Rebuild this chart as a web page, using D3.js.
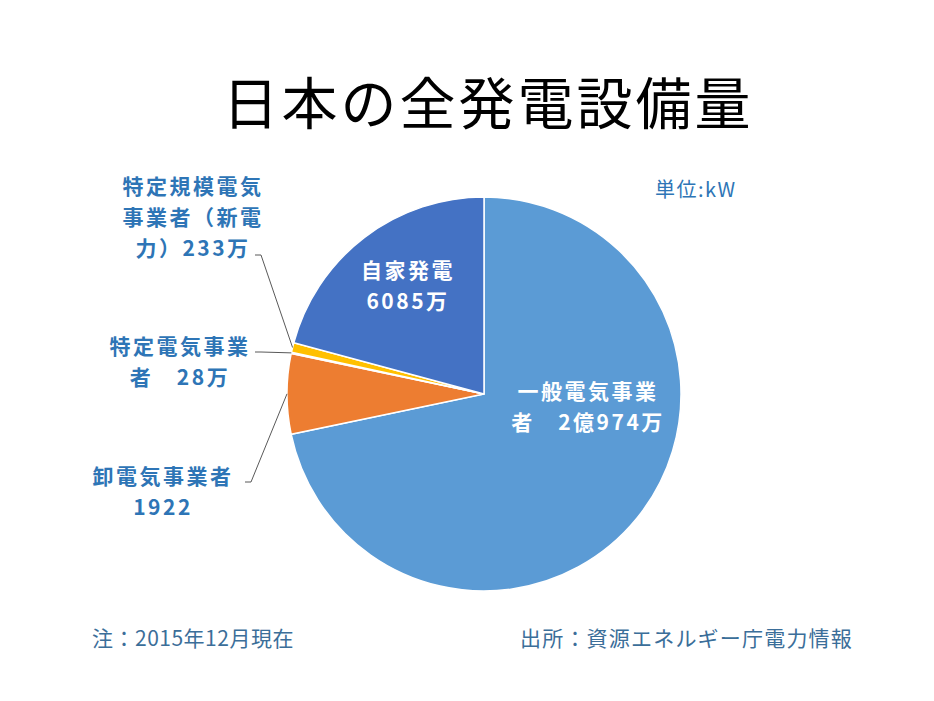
<!DOCTYPE html>
<html>
<head>
<meta charset="utf-8">
<script src="https://cdn.jsdelivr.net/npm/d3@7"></script>
<style>
  body { margin: 0; background: #fff; }
  text { font-family: "Noto Sans CJK JP", "Noto Sans", sans-serif; }
</style>
</head>
<body>
<div id="chart"></div>
<script>
// 単位: 万kW (2015年12月現在)
var categories = ["一般電気事業者", "卸電気事業者", "特定電気事業者", "特定規模電気事業者（新電力）", "自家発電"];
var values = [20974, 1922, 28, 233, 6085];
var labelLines = [
  ["一般電気事業", "者　2億974万"],
  ["卸電気事業者", "1922"],
  ["特定電気事業", "者　28万"],
  ["特定規模電気", "事業者（新電", "力）233万"],
  ["自家発電", "6085万"]
];
var colors = ["#5B9BD5", "#ED7D31", "#A5A5A5", "#FFC000", "#4472C4"];

var W = 934, H = 701;
var cx = 484, cy = 394, r = 197;

var svg = d3.select("#chart").append("svg")
    .attr("width", W).attr("height", H);

svg.append("rect").attr("width", W).attr("height", H).attr("fill", "#fff");

// title
svg.append("text")
    .attr("x", 488).attr("y", 124)
    .attr("text-anchor", "middle")
    .style("font-size", "56px")
    .style("font-weight", "400")
    .style("letter-spacing", "3px")
    .attr("fill", "#000")
    .text("日本の全発電設備量");

var pie = d3.pie().sort(null).value(function(d){ return d; });
var arcs = pie(values);
var arc = d3.arc().innerRadius(0).outerRadius(r);

var g = svg.append("g").attr("transform", "translate(" + cx + "," + cy + ")");
g.selectAll("path")
    .data(arcs)
    .enter().append("path")
    .attr("d", arc)
    .attr("fill", function(d, i){ return colors[i]; })
    .attr("stroke", "#fff")
    .attr("stroke-width", 1.5);

// label layout: inside labels (white) and outside labels with leaders
var layout = [
  { x: 588, y: 399, inside: true },
  { x: 163, y: 484, inside: false, lx: 245 },
  { x: 180, y: 354, inside: false, lx: 255 },
  { x: 193, y: 194, inside: false, lx: 255, ly: 255 },
  { x: 408, y: 278, inside: true }
];

function edgePoint(d) {
  var a = (d.startAngle + d.endAngle) / 2;
  return [cx + r * Math.sin(a), cy - r * Math.cos(a)];
}

arcs.forEach(function(d, i){
  var L = layout[i];
  var t = svg.append("text")
      .attr("text-anchor", "middle")
      .style("font-size", "21px")
      .style("font-weight", "bold")
      .style("letter-spacing", "2.5px")
      .attr("fill", L.inside ? "#fff" : "#2E75B6");
  labelLines[i].forEach(function(s, k){
    t.append("tspan").attr("x", L.x).attr("y", L.y + k * 31).text(s);
  });
  if (!L.inside) {
    var p = edgePoint(d);
    var sy = L.ly !== undefined ? L.ly : L.y - 2;
    svg.append("path")
        .attr("d", d3.line()([[L.lx, sy], [L.lx + 6, sy], p]))
        .attr("fill", "none")
        .attr("stroke", "#595959")
        .attr("stroke-width", 1);
  }
});

svg.append("text")
    .attr("x", 655).attr("y", 197)
    .style("font-size", "20px")
    .style("letter-spacing", "1.5px")
    .attr("fill", "#2E75B6")
    .text("単位:kW");

svg.append("text")
    .attr("x", 92).attr("y", 646)
    .style("font-size", "21px")
    .style("letter-spacing", "0.5px")
    .attr("fill", "#3B6E99")
    .text("注：2015年12月現在");

svg.append("text")
    .attr("x", 520).attr("y", 646)
    .style("font-size", "21px")
    .style("letter-spacing", "1.2px")
    .attr("fill", "#3B6E99")
    .text("出所：資源エネルギー庁電力情報");
</script>
</body>
</html>
